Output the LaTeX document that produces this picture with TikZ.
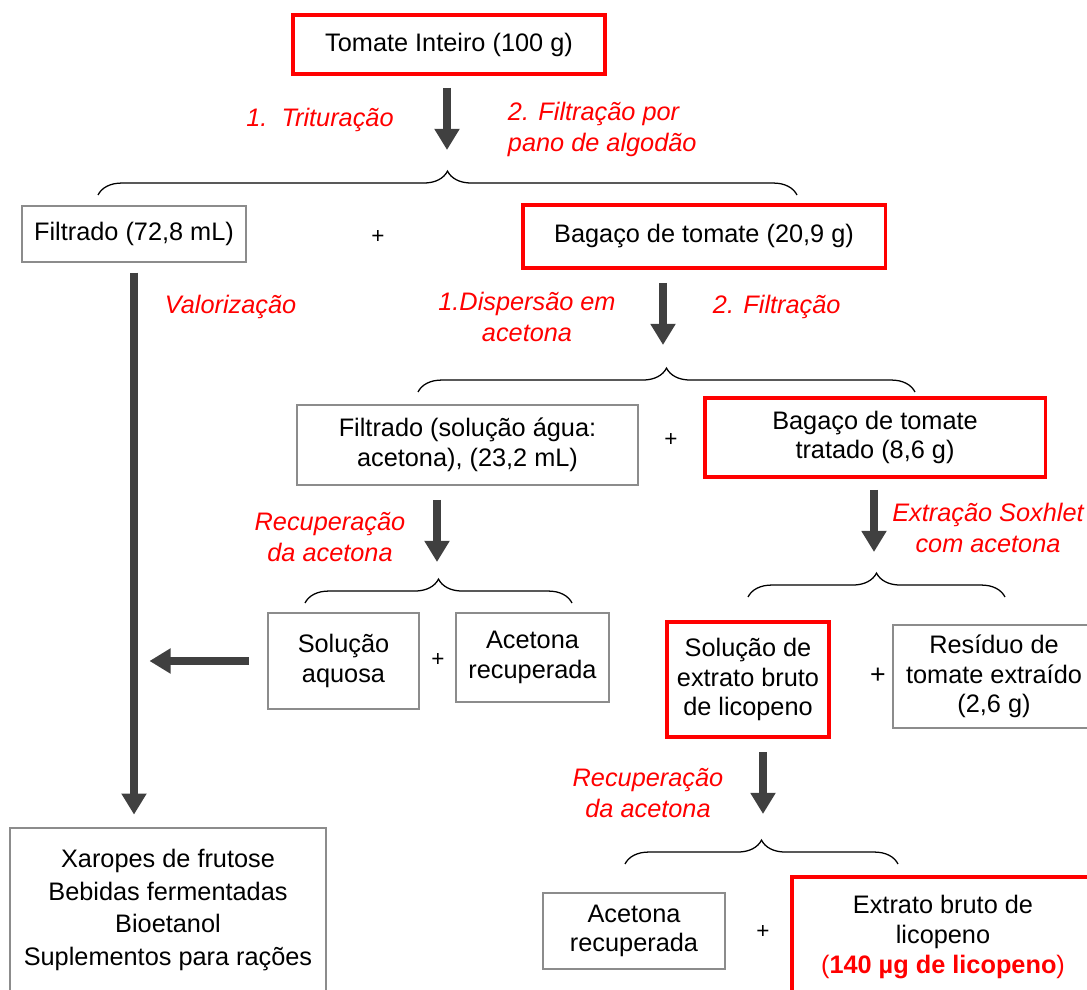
\documentclass[tikz,border=0pt]{standalone}
\usepackage{fontspec}
\setmainfont{Liberation Sans}
\usetikzlibrary{arrows.meta,positioning,calc,decorations.pathreplacing}
\definecolor{Rim}{HTML}{FF0000}
\definecolor{Frame}{HTML}{8C8C8C}
\definecolor{Shaft}{HTML}{404040}
\tikzset{
  arr/.style={-{Triangle[width=17pt,length=15pt]},line width=5.7pt,draw=Shaft},
  graybox/.style={draw=Frame,line width=1pt,fill=white,align=center,font=\fontsize{18}{21}\selectfont},
  redbox/.style={draw=Rim,line width=2.2pt,fill=white,align=center,font=\fontsize{18}{21}\selectfont},
  steplbl/.style={text=Rim,align=center,font=\fontsize{18}{22}\selectfont\itshape},
  plus/.style={font=\fontsize{16}{16}\selectfont},
  brc/.style={decorate,decoration={brace,amplitude=17pt},line width=0.9pt}
}
\begin{document}
\begin{tikzpicture}[x=0.025cm,y=-0.025cm]
  \useasboundingbox (0,0) rectangle (1087,990);
  \node[redbox,minimum width=7.8cm,minimum height=1.475cm] (tomate) at (449,44.5) {Tomate Inteiro (100 g)};
  \node[steplbl] (trit) at (320,120) {1.\ \ Trituração};
  \node[steplbl,align=left,anchor=west] (pano) at (503,129) {2. Filtração por\\pano de algodão};
  \coordinate (p1) at (447,88);
  \draw[arr] (p1) -- ++(0,62);
  \draw[brc] (98,195) -- (797,195);
  \node[graybox,minimum width=5.6cm,minimum height=1.4cm] (filt1) at (134,234) {Filtrado (72,8 mL)};
  \node[plus] (plus1) at (378,237) {+};
  \node[redbox,minimum width=9.05cm,minimum height=1.575cm] (bag1) at (704,236.5) {Bagaço de tomate (20,9 g)};
  \node[steplbl,anchor=west] (valor) at (160,307) {Valorização};
  \node[steplbl] (disp) at (527,317) {1.Dispersão em\\acetona};
  \node[steplbl,anchor=west] (filtr) at (708,307) {2. Filtração};
  \coordinate (p2) at (663,283);
  \draw[arr] (p2) -- ++(0,62);
  \draw[brc] (418,392) -- (915,392);
  \node[graybox,minimum width=8.525cm,minimum height=2cm] (filt2) at (467.5,445) {Filtrado (solução água:\\acetona), (23,2 mL)};
  \node[plus] (plus2) at (671,440) {+};
  \node[redbox,minimum width=8.5cm,minimum height=1.975cm] (bag2) at (875,437.5) {Bagaço de tomate\\tratado (8,6 g)};
  \node[steplbl] (recup1) at (330,537) {Recuperação\\da acetona};
  \coordinate (p3) at (437,500);
  \draw[arr] (p3) -- ++(0,62);
  \node[steplbl] (soxh) at (988,528) {Extração Soxhlet\\com acetona};
  \coordinate (p4) at (874,490);
  \draw[arr] (p4) -- ++(0,62);
  \draw[brc] (305,603) -- (572,603);
  \draw[brc] (748,597) -- (1005,597);
  \node[graybox,minimum width=3.775cm,minimum height=2.4cm] (solaq) at (343.5,661) {Solução\\aquosa};
  \node[plus] (plus3) at (438,660) {+};
  \node[graybox,minimum width=3.825cm,minimum height=2.225cm] (acet1) at (532.5,657.5) {Acetona\\recuperada};
  \node[redbox,minimum width=4.05cm,minimum height=2.875cm] (solext) at (748,679.5) {Solução de\\extrato bruto\\de licopeno};
  \node[plus,font=\fontsize{19}{19}\selectfont] (plus4) at (878,676) {+};
  \node[graybox,minimum width=5.05cm,minimum height=2.575cm] (resid) at (994,676.5) {Resíduo de\\tomate extraído\\(2,6 g)};
  \node[steplbl] (recup2) at (648,793) {Recuperação\\da acetona};
  \coordinate (p5) at (763,752);
  \draw[arr] (p5) -- ++(0,62);
  \draw[brc] (625,864) -- (898,864);
  \node[graybox,minimum width=4.55cm,minimum height=1.9cm] (acet2) at (634,931) {Acetona\\recuperada};
  \node[plus] (plus5) at (763,932) {+};
  \node[redbox,minimum width=7.55cm,minimum height=3cm] (extr) at (943,937) {Extrato bruto de\\licopeno\\\textcolor{Rim}{(\textbf{140 µg de licopeno})}};
  \node[graybox,minimum width=7.9cm,minimum height=4.1cm,font=\fontsize{18}{23}\selectfont] (xar) at (168,910) {Xaropes de frutose\\Bebidas fermentadas\\Bioetanol\\Suplementos para rações};
  \draw[arr,shorten <=7pt,shorten >=9pt] (filt1.south) -- (filt1.south |- xar.north);
  \draw[arr,shorten <=13pt,shorten >=11pt] (solaq.west) -- (solaq.west -| filt1.south);
\end{tikzpicture}
\end{document}
